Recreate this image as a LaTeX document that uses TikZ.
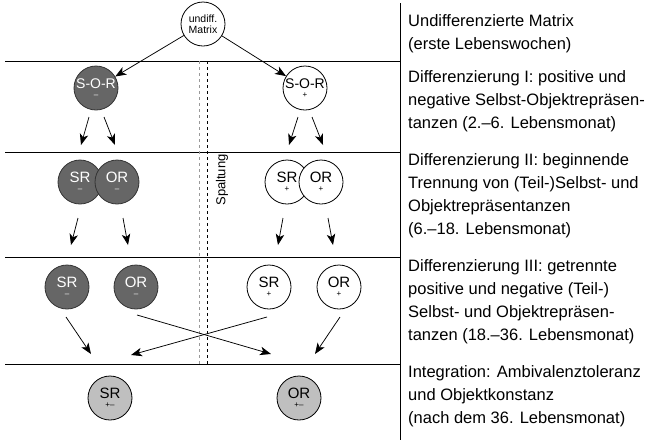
\documentclass[tikz,border=0pt]{standalone}
\usepackage{fontspec}
\setmainfont{Liberation Sans}
\usepackage{tikz}
\usetikzlibrary{arrows.meta}

\begin{document}
\begin{tikzpicture}[x=1pt,y=-1pt]
% Define styles
\tikzstyle{phase} = [circle, draw, line width=0.8pt, minimum size=44pt, inner sep=0pt, align=center, font=\fontsize{15}{11}\selectfont]
\tikzstyle{negbox} = [phase, fill=black!60, draw=black!80, text=white]
\tikzstyle{posbox} = [phase, fill=white]
\tikzstyle{integ} = [phase, fill=black!25]
\tikzstyle{arr} = [-{Stealth[length=11pt,width=8.5pt,inset=3pt]}, line width=0.75pt]
\tikzstyle{stage} = [anchor=base west, align=left, inner sep=0pt, font=\fontsize{16.5}{23}\selectfont]
\newcommand{\sg}[1]{\\[-2pt]{\fontsize{8}{8}\selectfont #1}}
\useasboundingbox (0,0) rectangle (645,440);

% Frame
\draw[line width=0.7pt] (400,3) -- (400,440);
\foreach \y in {61,152,257,364}
  \draw[line width=0.7pt] (5,\y) -- (400,\y);
\draw[black!40, dashed, line width=0.7pt] (199,61) -- (199,364);
\draw[dashed, line width=0.7pt] (207,61) -- (207,364);
\node[rotate=90, font=\fontsize{13}{13}\selectfont] (spalt) at (222,180) {Spaltung};

% Define nodes
\node[posbox, font=\fontsize{10.5}{11}\selectfont] (matrix) at (203,24) {undiff.\\Matrix};
\node[negbox, font=\fontsize{14}{11}\selectfont] (sor_n) at (96,88) {S-O-R\sg{–}};
\node[posbox, font=\fontsize{14}{11}\selectfont] (sor_p) at (305,88) {S-O-R\sg{+}};
\node[negbox] (sr_n2) at (80,182) {SR\sg{–}};
\node[negbox] (or_n2) at (117,182) {OR\sg{–}};
\node[posbox] (sr_p2) at (287,182) {SR\sg{+}};
\node[posbox] (or_p2) at (321,182) {OR\sg{+}};
\node[negbox] (sr_n3) at (67,287) {SR\sg{–}};
\node[negbox] (or_n3) at (136,287) {OR\sg{–}};
\node[posbox] (sr_p3) at (269,287) {SR\sg{+}};
\node[posbox] (or_p3) at (339,287) {OR\sg{+}};
\node[integ] (sr_i) at (110,398) {SR\sg{+–}};
\node[integ] (or_i) at (299,398) {OR\sg{+–}};

% Arrow ends
\coordinate (a1) at (89,117);  \coordinate (b1) at (81,145);
\coordinate (a2) at (104,117); \coordinate (b2) at (115,145);
\coordinate (a3) at (298,117); \coordinate (b3) at (289,145);
\coordinate (a4) at (312,117); \coordinate (b4) at (323,145);
\coordinate (c1) at (78,218);  \coordinate (d1) at (71,245);
\coordinate (c2) at (123,218); \coordinate (d2) at (128,245);
\coordinate (c3) at (283,218); \coordinate (d3) at (278,245);
\coordinate (c4) at (328,218); \coordinate (d4) at (333,245);
\coordinate (e1) at (66,317);  \coordinate (f1) at (91,354);
\coordinate (e2) at (137,315); \coordinate (f2) at (271,354);
\coordinate (e3) at (267,317); \coordinate (f3) at (131,355);
\coordinate (e4) at (340,317); \coordinate (f4) at (315,354);

% Connect the nodes
\draw[arr] (matrix) -- (sor_n);
\draw[arr] (matrix) -- (sor_p);
\draw[arr] (a1) -- (b1);
\draw[arr] (a2) -- (b2);
\draw[arr] (a3) -- (b3);
\draw[arr] (a4) -- (b4);
\draw[arr] (c1) -- (d1);
\draw[arr] (c2) -- (d2);
\draw[arr] (c3) -- (d3);
\draw[arr] (c4) -- (d4);
\draw[arr] (e1) -- (f1);
\draw[arr] (e2) -- (f2);
\draw[arr] (e3) -- (f3);
\draw[arr] (e4) -- (f4);

% Stages
\node[stage] (st0) at (408,49) {Undifferenzierte Matrix\\(erste Lebenswochen)};
\node[stage] (st1) at (408,128) {Differenzierung I: positive und\\negative Selbst-Objektrepräsen-\\tanzen (2.–6. Lebensmonat)};
\node[stage] (st2) at (408,234) {Differenzierung II: beginnende\\Trennung von (Teil-)Selbst- und\\Objektrepräsentanzen\\(6.–18. Lebensmonat)};
\node[stage] (st3) at (408,340) {Differenzierung III: getrennte\\positive und negative (Teil-)\\Selbst- und Objektrepräsen-\\tanzen (18.–36. Lebensmonat)};
\node[stage] (st4) at (408,423) {Integration: Ambivalenztoleranz\\und Objektkonstanz\\(nach dem 36. Lebensmonat)};
\end{tikzpicture}
\end{document}
